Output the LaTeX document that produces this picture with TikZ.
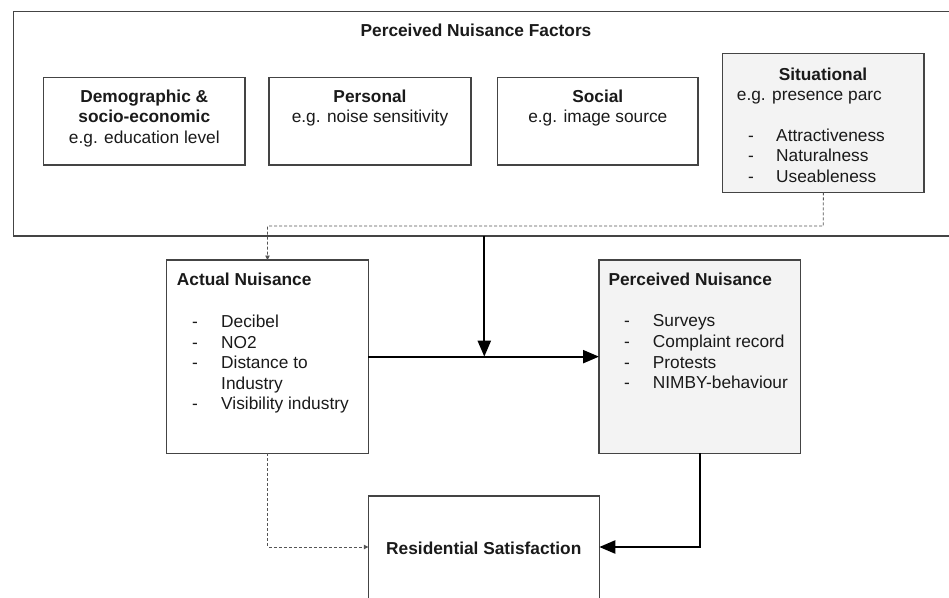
\documentclass[tikz,border=0pt]{standalone}
\usepackage{fontspec}
\setmainfont{Liberation Sans}
\usetikzlibrary{arrows.meta}
\definecolor{boxline}{HTML}{444444}
\definecolor{boxfill}{HTML}{F3F3F3}
\definecolor{dashcol}{HTML}{555555}
\definecolor{txt}{HTML}{1A1A1A}
\begin{document}
\begin{tikzpicture}[x=1pt,y=-1pt,
  every node/.style={font=\fontsize{17.3}{20.6}\selectfont, text=txt},
  frame/.style={draw=boxline, line width=1.3pt, anchor=north west, inner sep=0pt, outer sep=0pt},
  grayframe/.style={frame, fill=boxfill},
  lbl/.style={anchor=base west, inner sep=0pt},
  lblc/.style={anchor=base, inner sep=0pt},
  bold/.style={font=\fontsize{17.3}{20.6}\selectfont\bfseries},
  mainarrow/.style={line width=2.3pt, black, -{Triangle[length=16pt,width=13pt]}},
  dashlink/.style={draw=dashcol, line width=0.8pt, dash pattern=on 3pt off 2pt, -{Triangle[length=4.5pt,width=4.5pt]}}
]
\useasboundingbox (0,0) rectangle (949,597);
\clip (0,0) rectangle (949,597);
\fill[white] (0,0) rectangle (949,597);

% outer frame
\node[frame, minimum width=942pt, minimum height=224.3pt] (outer) at (13.3,11.7) {};
\node[lblc, bold] (title) at (476,36) {Perceived Nuisance Factors};

% top boxes
\node[frame, minimum width=201.4pt, minimum height=87.7pt] (demo) at (43.6,77.3) {};
\node[lblc, bold] (demo1) at (144.3,102) {Demographic \&};
\node[lblc, bold] (demo2) at (144.3,122.5) {socio-economic};
\node[lblc] (demo3) at (144.3,143) {e.g. education level};

\node[frame, minimum width=202pt, minimum height=87.7pt] (pers) at (269,77.3) {};
\node[lblc, bold] (pers1) at (370,102) {Personal};
\node[lblc] (pers2) at (370,122.5) {e.g. noise sensitivity};

\node[frame, minimum width=200.4pt, minimum height=87.7pt] (soc) at (497.6,77.3) {};
\node[lblc, bold] (soc1) at (597.8,102) {Social};
\node[lblc] (soc2) at (597.8,122.5) {e.g. image source};

\node[grayframe, minimum width=201.3pt, minimum height=139pt] (sit) at (722.7,53.3) {};
\node[lblc, bold] (sit1) at (823,80) {Situational};
\node[lbl] (sit2) at (736.7,100) {e.g. presence parc};
\node[lbl] (sitd1) at (748,141) {-};
\node[lbl] (sitd2) at (748,161.5) {-};
\node[lbl] (sitd3) at (748,182) {-};
\node[lbl] (sit3) at (776,141) {Attractiveness};
\node[lbl] (sit4) at (776,161.5) {Naturalness};
\node[lbl] (sit5) at (776,182) {Useableness};

% actual nuisance
\node[frame, minimum width=201.6pt, minimum height=193.3pt] (act) at (166.7,260) {};
\node[lbl, bold] (act0) at (176.7,285.7) {Actual Nuisance};
\node[lbl] (actd1) at (192,327.3) {-};
\node[lbl] (actd2) at (192,348) {-};
\node[lbl] (actd3) at (192,368.5) {-};
\node[lbl] (actd4) at (192,409.5) {-};
\node[lbl] (act1) at (221,327.3) {Decibel};
\node[lbl] (act2) at (221,348) {NO2};
\node[lbl] (act3) at (221,368.5) {Distance to};
\node[lbl] (act4) at (221,389) {Industry};
\node[lbl] (act5) at (221,409.5) {Visibility industry};

% perceived nuisance
\node[grayframe, minimum width=201.7pt, minimum height=193.3pt] (perc) at (599,260) {};
\node[lbl, bold] (perc0) at (608.3,285) {Perceived Nuisance};
\node[lbl] (percd1) at (624,326.7) {-};
\node[lbl] (percd2) at (624,347.3) {-};
\node[lbl] (percd3) at (624,368) {-};
\node[lbl] (percd4) at (624,388.5) {-};
\node[lbl] (perc1) at (652.7,326.7) {Surveys};
\node[lbl] (perc2) at (652.7,347.3) {Complaint record};
\node[lbl] (perc3) at (652.7,368) {Protests};
\node[lbl] (perc4) at (652.7,388.5) {NIMBY-behaviour};

% residential satisfaction (cut off at the bottom edge)
\node[frame, minimum width=231pt, minimum height=140pt] (res) at (368.3,496) {};
\coordinate (rsy) at (0,547);
\node[lblc, bold] (res1) at (483.8,554.3) {Residential Satisfaction};

% connectors
\coordinate (dj) at (823.3,226);
\draw[dashlink] (sit.south) -- (dj) -| (act.north);
\coordinate (junc) at (outer.south |- act.east);
\draw[mainarrow] (act.east) -- (perc.west);
\draw[mainarrow] (outer.south) -- (junc);
\draw[mainarrow] (perc.south) |- (res.east |- rsy);
\draw[dashlink] (act.south) |- (res.west |- rsy);
\end{tikzpicture}
\end{document}
